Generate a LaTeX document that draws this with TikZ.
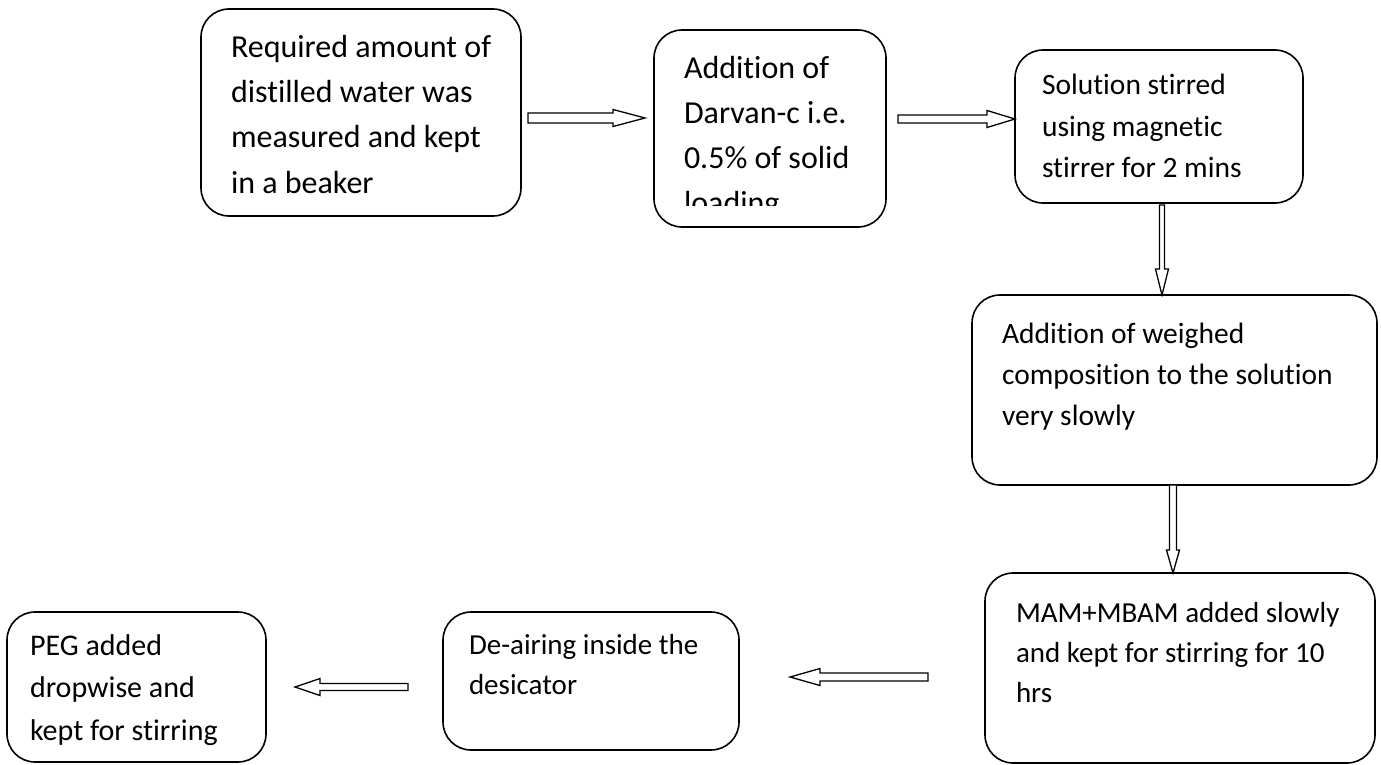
\documentclass[tikz,border=0pt]{standalone}
\usepackage{fontspec}
\setmainfont{Carlito}[Ligatures={NoCommon,NoRequired,NoContextual}]
\usetikzlibrary{calc,fit}
\tikzset{
  box/.style={draw, line width=1.6pt, rounded corners=28pt, inner sep=0pt, outer sep=0pt},
  txt/.style={anchor=north west, inner sep=0pt, outer sep=0pt, align=left},
  blk/.style={draw, line width=1.3pt, fill=white, line join=miter},
}
\newcommand\lns{\rule{0pt}{27pt}}
\newcommand\tI{t\kern0pt i}
\newcommand\blockarrow[5]{%
  \coordinate (hb) at ($(#2)!#5!(#1)$);
  \draw[blk] ($(#1)!#3!90:(#2)$) -- ($(hb)!#3!-90:(#1)$) -- ($(hb)!#4!-90:(#1)$) -- (#2)
    -- ($(hb)!#4!90:(#1)$) -- ($(hb)!#3!90:(#1)$) -- ($(#1)!#3!-90:(#2)$) -- cycle;
}
\begin{document}
\begin{tikzpicture}[x=1pt,y=-1pt]
\useasboundingbox (0,0) rectangle (1381,765);
% boxes
\node[box, fit={(201,9) (521,216)}] (b1) {};
\node[box, fit={(654,30) (886,227)}] (b2) {};
\node[box, fit={(1015,50) (1303,203)}] (b3) {};
\node[box, fit={(972,295) (1377,485)}] (b4) {};
\node[box, fit={(985,573) (1375,763)}] (b5) {};
\node[box, fit={(443,612) (739,750)}] (b6) {};
\node[box, fit={(7,612) (266,762)}] (b7) {};
% texts
\node[txt, font=\fontsize{32}{45}\selectfont] (t1) at (231,31)
  {\lns Required amount of\\distilled water was\\measured and kept\\in a beaker};
\begin{scope}
\clip (655,31) rectangle (885,205);
\node[txt, font=\fontsize{32}{45}\selectfont] (t2) at (684,51)
  {\lns Addi\tI on of\\Darvan-c i.e.\\0.5\% of solid\\loading};
\end{scope}
\node[txt, font=\fontsize{29.5}{41}\selectfont] (t3) at (1042,68)
  {\lns Solu\tI on stirred\\using magnetic\\stirrer for 2 mins};
\node[txt, font=\fontsize{29.5}{41}\selectfont] (t4) at (1002,316)
  {\lns Addi\tI on of weighed\\composi\tI on to the solu\tI on\\very slowly};
\node[txt, font=\fontsize{29}{40}\selectfont] (t5) at (1016,595)
  {\lns MAM+MBAM added slowly\\and kept for stirring for 10\\hrs};
\node[txt, font=\fontsize{29}{40}\selectfont] (t6) at (469,627)
  {\lns De-airing inside the\\desicator};
\node[txt, font=\fontsize{30}{42.5}\selectfont] (t7) at (30,628)
  {\lns PEG added\\dropwise and\\kept for stirring};
% arrow end points
\coordinate (a1s) at (528,118);
\coordinate (a1e) at (645,118);
\coordinate (a2s) at (898,119);
\coordinate (a2e) at (b3.west |- a2s);
\coordinate (a3s) at (1162,205);
\coordinate (a3e) at (a3s |- b4.north);
\coordinate (a4s) at (1173,485);
\coordinate (a4e) at (a4s |- b5.north);
\coordinate (a5s) at (928,677);
\coordinate (a5e) at (790,677);
\coordinate (a6s) at (408,687);
\coordinate (a6e) at (295,687);
% arrows
\blockarrow{a1s}{a1e}{5pt}{8.5pt}{32pt}
\blockarrow{a2s}{a2e}{4pt}{8.5pt}{28pt}
\blockarrow{a3s}{a3e}{2.5pt}{6.5pt}{26pt}
\blockarrow{a4s}{a4e}{3.5pt}{6.5pt}{23pt}
\blockarrow{a5s}{a5e}{4pt}{8.5pt}{30pt}
\blockarrow{a6s}{a6e}{3.5pt}{8.5pt}{25pt}
\end{tikzpicture}
\end{document}
